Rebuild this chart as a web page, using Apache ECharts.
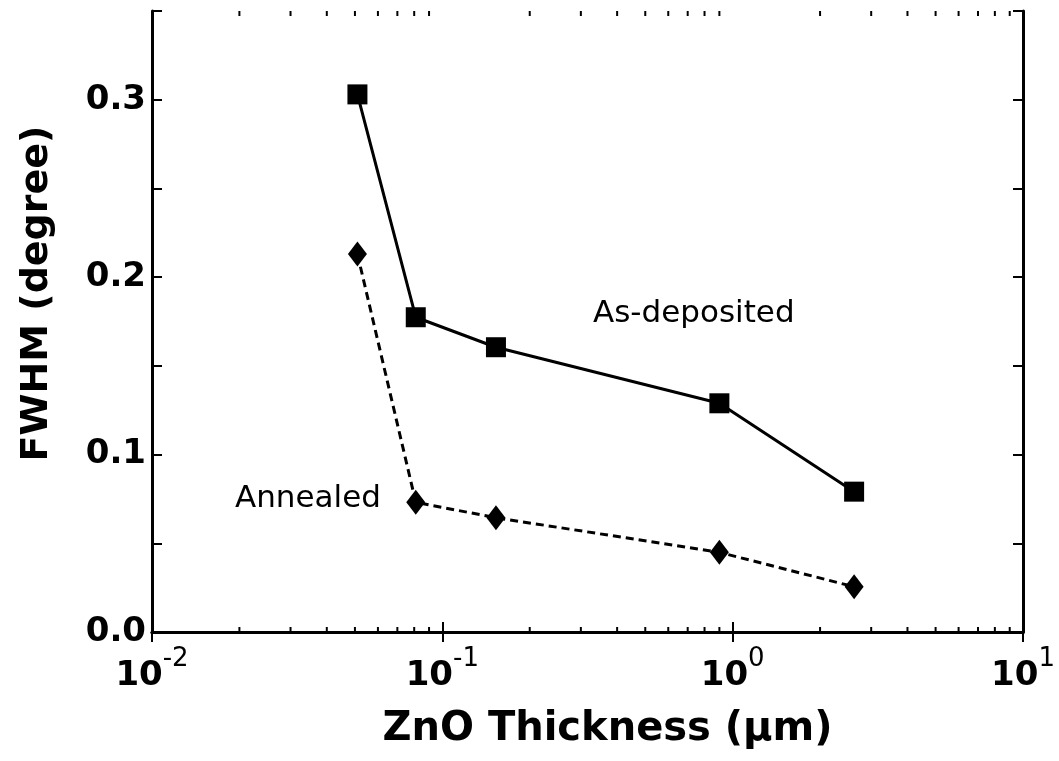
<!DOCTYPE html>
<html>
<head>
<meta charset="utf-8">
<script src="https://cdn.jsdelivr.net/npm/echarts@6/dist/echarts.min.js"></script>
<style>
html,body{margin:0;padding:0;background:#fff;}
#chart{width:1059px;height:761px;}
</style>
</head>
<body>
<div id="chart"></div>
<script>
// ---- data ----
var thickness = [0.051, 0.081, 0.153, 0.90, 2.62];              // ZnO thickness (µm)
var fwhmAsDeposited = [0.303, 0.1774, 0.1605, 0.1289, 0.0791];  // degree
var fwhmAnnealed = [0.213, 0.0731, 0.0644, 0.0449, 0.0255];     // degree
var xTicks = [0.01, 0.1, 1, 10];
var yTicks = [0.0, 0.1, 0.2, 0.3];
var xMinorTicks = [0.02,0.03,0.04,0.05,0.06,0.07,0.08,0.09,
                   0.2,0.3,0.4,0.5,0.6,0.7,0.8,0.9,
                   2,3,4,5,6,7,8,9];
var seriesNames = ['As-deposited', 'Annealed'];

var FONT = 'DejaVu Sans';

function pairs(xs, ys){ return xs.map(function(x,i){ return [x, ys[i]]; }); }

var chart = echarts.init(document.getElementById('chart'), null, {renderer:'canvas'});

var xAxisCommon = {
  type: 'log', logBase: 10, min: 0.01, max: 10,
  axisLine: {show: true, lineStyle: {color: '#000', width: 3}},
  axisTick: {show: true, inside: true, length: 10, lineStyle: {color: '#000', width: 2}},
  splitLine: {show: false},
  minorTick: {show: false}
};
var yAxisCommon = {
  type: 'value', min: 0, max: 0.35, interval: 0.05,
  axisLine: {show: true, lineStyle: {color: '#000', width: 3}},
  axisTick: {show: true, inside: true, length: 10, lineStyle: {color: '#000', width: 2}},
  splitLine: {show: false}
};

var option = {
  backgroundColor: '#fff',
  animation: false,
  grid: {left: 152, right: 36, top: 11, bottom: 129, containLabel: false},
  xAxis: [
    Object.assign({}, xAxisCommon, {
      position: 'bottom',
      name: 'ZnO Thickness (\u03bcm)',
      nameLocation: 'middle',
      nameGap: 78,
      nameTextStyle: {fontFamily: FONT, fontWeight: 'bold', fontSize: 40, color: '#000', padding: [0,0,0,40]},
      axisLabel: {
        show: true, margin: 14,
        formatter: function(v){
          var e = Math.round(Math.log(v)/Math.LN10);
          return '{b|10}{s|' + e + '}';
        },
        rich: {
          b: {fontFamily: FONT, fontWeight: 'bold', fontSize: 34, color: '#000', lineHeight: 34, padding: [27,0,0,0]},
          s: {fontFamily: FONT, fontWeight: 'normal', fontSize: 26, color: '#000', lineHeight: 24, verticalAlign: 'top'}
        }
      }
    }),
    Object.assign({}, xAxisCommon, {
      position: 'top',
      axisLabel: {show: false}
    })
  ],
  yAxis: [
    Object.assign({}, yAxisCommon, {
      position: 'left',
      name: 'FWHM (degree)',
      nameLocation: 'middle',
      nameGap: 96,
      nameTextStyle: {fontFamily: FONT, fontWeight: 'bold', fontSize: 38, color: '#000', padding: [0,0,0,56]},
      axisLabel: {
        show: true, margin: 6,
        fontFamily: FONT, fontWeight: 'bold', fontSize: 34, color: '#000',
        formatter: function(v){
          for (var i=0;i<yTicks.length;i++){ if (Math.abs(v-yTicks[i])<1e-6) return yTicks[i].toFixed(1); }
          return '';
        }
      }
    }),
    Object.assign({}, yAxisCommon, {
      position: 'right',
      axisLabel: {show: false}
    })
  ],
  series: [
    {
      name: seriesNames[0], type: 'line',
      data: pairs(thickness, fwhmAsDeposited),
      symbol: 'rect', symbolSize: 20,
      lineStyle: {color: '#000', width: 3},
      itemStyle: {color: '#000'},
      z: 3
    },
    {
      name: seriesNames[1], type: 'line',
      data: pairs(thickness, fwhmAnnealed),
      symbol: 'diamond', symbolSize: [19, 25],
      lineStyle: {color: '#000', width: 3, type: [8, 5]},
      itemStyle: {color: '#000'},
      z: 3
    },
    {
      name: 'minorTicks', type: 'custom',
      data: xMinorTicks.map(function(v){ return [v]; }),
      encode: {x: 0},
      silent: true, clip: false,
      renderItem: function(params, api){
        var x = api.value(0);
        var pb = api.coord([x, 0]);
        var pt = api.coord([x, 0.35]);
        var st = {stroke: '#000', lineWidth: 2};
        return {type: 'group', children: [
          {type: 'line', shape: {x1: pb[0], y1: pb[1], x2: pb[0], y2: pb[1]-5}, style: st},
          {type: 'line', shape: {x1: pt[0], y1: pt[1], x2: pt[0], y2: pt[1]+5}, style: st}
        ]};
      },
      z: 5
    }
  ],
  graphic: [
    {type: 'text', left: 593, top: 298, style: {text: seriesNames[0], font: 'normal 31px "DejaVu Sans"', fill: '#000'}},
    {type: 'text', left: 235, top: 483, style: {text: seriesNames[1], font: 'normal 31px "DejaVu Sans"', fill: '#000'}}
  ]
};

chart.setOption(option);
</script>
</body>
</html>
